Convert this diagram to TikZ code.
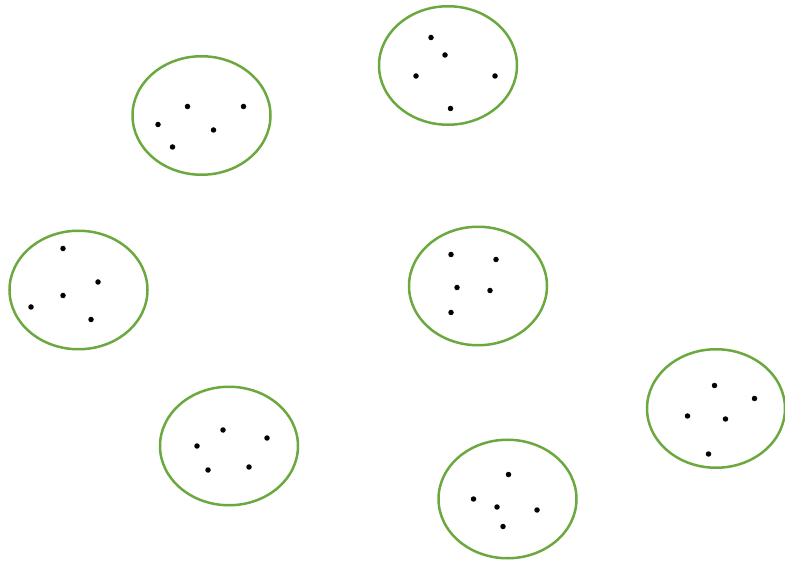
\documentclass[tikz,border=0pt]{standalone}
\usetikzlibrary{shapes.geometric}
\definecolor{grp}{RGB}{108,168,64}
\begin{document}
\begin{tikzpicture}[x=1pt,y=-1pt,
  cluster/.style={draw=grp,line width=2.5pt,ellipse,minimum width=138pt,minimum height=118.5pt,inner sep=0pt},
  pt/.style={circle,fill=black,inner sep=0pt,minimum size=5.5pt}]
\useasboundingbox (0,0) rectangle (785,561);
\node[cluster] (c1) at (201.5,115.5) {};
\node[cluster] (c2) at (448,65.5) {};
\node[cluster] (c3) at (78.5,290) {};
\node[cluster] (c4) at (478,286) {};
\node[cluster] (c5) at (229,446) {};
\node[cluster] (c6) at (716,408.5) {};
\node[cluster] (c7) at (507.5,499) {};
% cluster 1
\node[pt] (p11) at (187.5,106.5) {};
\node[pt] (p12) at (243.5,106.5) {};
\node[pt] (p13) at (158,124.5) {};
\node[pt] (p14) at (213.5,130) {};
\node[pt] (p15) at (172.5,147) {};
% cluster 2
\node[pt] (p21) at (431,37.5) {};
\node[pt] (p22) at (445,55) {};
\node[pt] (p23) at (416,76) {};
\node[pt] (p24) at (495,76) {};
\node[pt] (p25) at (450.5,108.5) {};
% cluster 3
\node[pt] (p31) at (63,248.5) {};
\node[pt] (p32) at (98,282) {};
\node[pt] (p33) at (63,295.5) {};
\node[pt] (p34) at (31,307) {};
\node[pt] (p35) at (91,319.5) {};
% cluster 4
\node[pt] (p41) at (451,254.5) {};
\node[pt] (p42) at (496,259.5) {};
\node[pt] (p43) at (457,287.5) {};
\node[pt] (p44) at (490,290.5) {};
\node[pt] (p45) at (451,312.5) {};
% cluster 5
\node[pt] (p51) at (223,430) {};
\node[pt] (p52) at (267,438) {};
\node[pt] (p53) at (197,446) {};
\node[pt] (p54) at (249,467) {};
\node[pt] (p55) at (208,470) {};
% cluster 6
\node[pt] (p61) at (714.5,385.5) {};
\node[pt] (p62) at (754.5,398.5) {};
\node[pt] (p63) at (687.5,416) {};
\node[pt] (p64) at (725.5,419) {};
\node[pt] (p65) at (708.5,454) {};
% cluster 7
\node[pt] (p71) at (508.5,474.5) {};
\node[pt] (p72) at (473.5,499) {};
\node[pt] (p73) at (497,507) {};
\node[pt] (p74) at (537,510) {};
\node[pt] (p75) at (503,526.5) {};
\end{tikzpicture}
\end{document}
